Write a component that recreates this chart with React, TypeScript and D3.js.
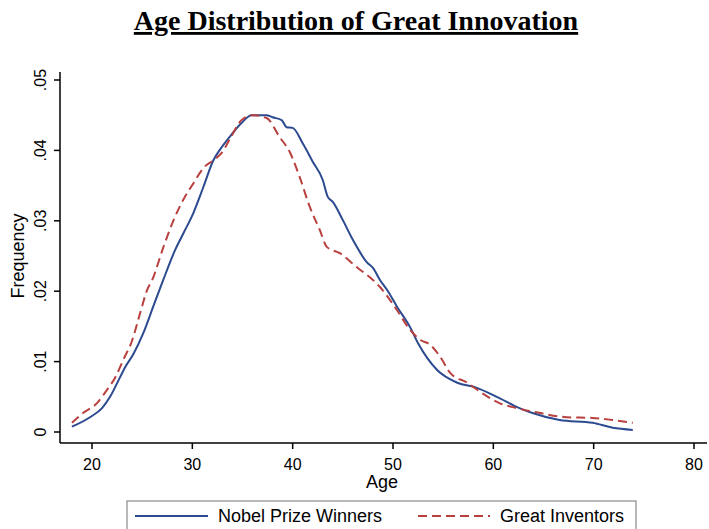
import React from "react";
import * as d3 from "d3";

const title = "Age Distribution of Great Innovation";
const xTicks = [20, 30, 40, 50, 60, 70, 80];
const yTicks = [0, 0.01, 0.02, 0.03, 0.04, 0.05];
const yTickLabels = ["0", ".01", ".02", ".03", ".04", ".05"];

const nobelAge = [18.0, 19.8, 21.0, 21.8, 22.8, 23.3, 24.1, 25.1, 26.1, 27.1, 28.3, 29.1, 30.1, 31.1, 32.1, 32.7, 33.7, 34.9, 35.9, 37.4, 38.0, 38.9, 39.4, 40.0, 41.0, 42.0, 43.0, 43.5, 44.0, 45.0, 46.0, 47.4, 48.0, 48.7, 49.4, 50.4, 51.7, 52.5, 54.4, 56.4, 58.3, 60.6, 62.6, 63.9, 66.6, 69.9, 71.9, 73.9];
const nobelFreq = [0.00075, 0.0021, 0.0034, 0.005, 0.0078, 0.0092, 0.011, 0.014, 0.0178, 0.0216, 0.0259, 0.0282, 0.0311, 0.0348, 0.0386, 0.04, 0.0419, 0.0439, 0.045, 0.045, 0.0447, 0.0443, 0.0433, 0.0432, 0.041, 0.0384, 0.0358, 0.0334, 0.0327, 0.0301, 0.0273, 0.0241, 0.0233, 0.0216, 0.0202, 0.0178, 0.0149, 0.0126, 0.0088, 0.007, 0.0063, 0.0048, 0.0034, 0.0027, 0.0017, 0.0013, 0.0006, 0.0003];

const inventorAge = [18.0, 19.1, 20.5, 21.5, 22.3, 23.1, 24.0, 24.8, 25.5, 26.0, 27.1, 28.1, 29.1, 30.1, 31.1, 32.1, 32.9, 33.7, 34.9, 36.0, 37.4, 38.7, 39.7, 40.7, 41.7, 42.7, 43.4, 44.7, 46.4, 48.0, 48.7, 50.4, 51.7, 52.7, 53.7, 54.7, 55.7, 57.4, 58.9, 60.6, 62.3, 64.3, 67.3, 69.9, 71.9, 73.9];
const inventorFreq = [0.0013, 0.0027, 0.0041, 0.006, 0.0077, 0.0102, 0.013, 0.0169, 0.0202, 0.0216, 0.0262, 0.03, 0.033, 0.0353, 0.0375, 0.0386, 0.0396, 0.0415, 0.0443, 0.045, 0.0446, 0.0419, 0.0398, 0.0362, 0.032, 0.0287, 0.0263, 0.0254, 0.0234, 0.0216, 0.0206, 0.0173, 0.0145, 0.0131, 0.0124, 0.0107, 0.0084, 0.007, 0.0055, 0.0041, 0.0034, 0.0028, 0.0021, 0.002, 0.0017, 0.0013];

const seriesNames = ["Nobel Prize Winners", "Great Inventors"];

const W = 709;
const H = 529;
const sans = "'Liberation Sans', Arial, sans-serif";
const blue = "#2c4a8f";
const red = "#b8403f";

export default function App() {
  const x = d3.scaleLinear().domain([20, 80]).range([92, 694]);
  const y = d3.scaleLinear().domain([0, 0.05]).range([432, 80]);
  const axisY = 443;
  const axisX = 60;

  const line = d3
    .line<[number, number]>()
    .x((d) => x(d[0]))
    .y((d) => y(d[1]))
    .curve(d3.curveMonotoneX);

  const nobel = nobelAge.map((a, i) => [a, nobelFreq[i]] as [number, number]);
  const inv = inventorAge.map((a, i) => [a, inventorFreq[i]] as [number, number]);

  return (
    <svg
      width={W}
      height={H}
      style={{ position: "absolute", left: 0, top: 0, background: "#fff" }}
    >
      <rect x={0} y={0} width={W} height={H} fill="#fff" />
      <text
        x={356}
        y={30}
        textAnchor="middle"
        fontFamily="'Liberation Serif', 'Times New Roman', serif"
        fontWeight="bold"
        fontSize={28}
        textDecoration="underline"
        fill="#000"
      >
        {title}
      </text>

      {/* axes */}
      <line x1={axisX} x2={axisX} y1={72} y2={axisY} stroke="#000" strokeWidth={1.5} />
      <line x1={axisX} x2={707} y1={axisY} y2={axisY} stroke="#000" strokeWidth={1.5} />

      {yTicks.map((t, i) => (
        <g key={"y" + i}>
          <line x1={axisX - 6} x2={axisX} y1={y(t)} y2={y(t)} stroke="#000" strokeWidth={1.5} />
          <text
            transform={`translate(${46},${y(t)}) rotate(-90)`}
            textAnchor="middle"
            fontFamily={sans}
            fontSize={16}
            fill="#000"
          >
            {yTickLabels[i]}
          </text>
        </g>
      ))}

      {xTicks.map((t) => (
        <g key={"x" + t}>
          <line x1={x(t)} x2={x(t)} y1={axisY} y2={axisY + 6} stroke="#000" strokeWidth={1.5} />
          <text x={x(t)} y={470} textAnchor="middle" fontFamily={sans} fontSize={16} fill="#000">
            {t}
          </text>
        </g>
      ))}

      <text x={382} y={488} textAnchor="middle" fontFamily={sans} fontSize={18} fill="#000">
        Age
      </text>
      <text
        transform={`translate(${24},${256}) rotate(-90)`}
        textAnchor="middle"
        fontFamily={sans}
        fontSize={18}
        fill="#000"
      >
        Frequency
      </text>

      <path d={line(nobel) || ""} fill="none" stroke={blue} strokeWidth={2} />
      <path d={line(inv) || ""} fill="none" stroke={red} strokeWidth={2} strokeDasharray="9,5" />

      {/* legend */}
      <rect x={127} y={501} width={509} height={34} fill="#fff" stroke="#8a8a8a" strokeWidth={1.2} />
      <line x1={135} x2={208} y1={516} y2={516} stroke={blue} strokeWidth={2} />
      <text x={218} y={522} fontFamily={sans} fontSize={18} fill="#000">
        {seriesNames[0]}
      </text>
      <line x1={418} x2={490} y1={516} y2={516} stroke={red} strokeWidth={2} strokeDasharray="9,5" />
      <text x={500} y={522} fontFamily={sans} fontSize={18} fill="#000">
        {seriesNames[1]}
      </text>
    </svg>
  );
}
